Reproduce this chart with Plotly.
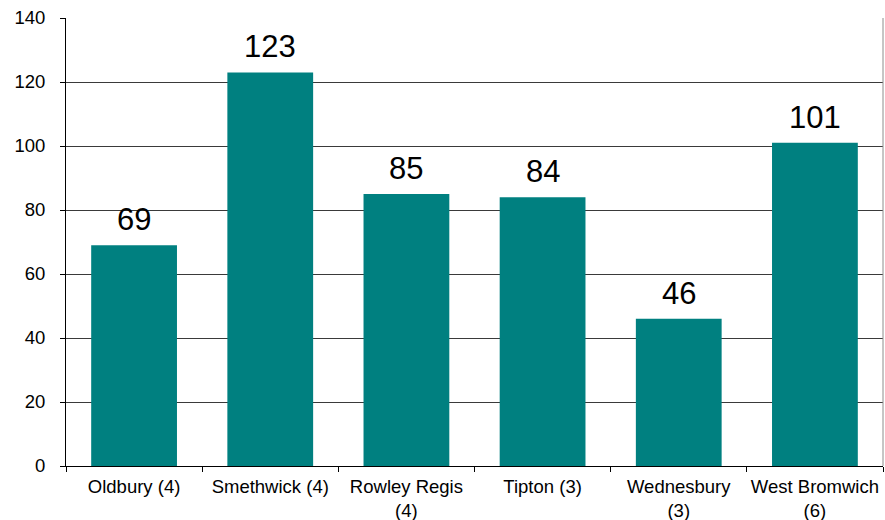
import plotly.graph_objects as go

towns = ["Oldbury (4)", "Smethwick (4)", "Rowley Regis<br>(4)", "Tipton (3)",
         "Wednesbury<br>(3)", "West Bromwich<br>(6)"]
counts = [69, 123, 85, 84, 46, 101]
y_ticks = [0, 20, 40, 60, 80, 100, 120, 140]

teal = "#008080"
font_family = "Liberation Sans, Arial, sans-serif"

fig = go.Figure()
fig.add_trace(go.Bar(
    x=towns, y=counts,
    marker=dict(color=teal, line=dict(width=0)),
    width=0.63,
    hoverinfo="x+y",
))

# value labels above each bar
for t, c in zip(towns, counts):
    fig.add_annotation(
        x=t, y=c, text=str(c), showarrow=False,
        yanchor="bottom", yshift=6,
        font=dict(size=31, color="#000000", family=font_family),
    )

# right-hand border of the plot area
fig.add_shape(type="line", xref="paper", yref="paper",
              x0=1, x1=1, y0=0, y1=1,
              line=dict(color="#8c8c8c", width=1))

fig.update_layout(
    width=885, height=520,
    margin=dict(l=66, r=2, t=18, b=54),
    plot_bgcolor="white", paper_bgcolor="white",
    showlegend=False,
    bargap=0.37,
    font=dict(family=font_family, color="#000000"),
    xaxis=dict(
        type="category",
        tickson="boundaries",
        tickangle=0,
        ticks="outside", ticklen=5, tickcolor="#000000", tickwidth=1,
        showline=True, linecolor="#000000", linewidth=1,
        showgrid=False,
        ticklabelstandoff=4,
        tickfont=dict(size=18.5, family=font_family, color="#000000"),
        automargin=False,
    ),
    yaxis=dict(
        range=[0, 140],
        tickvals=y_ticks,
        ticks="outside", ticklen=5, tickcolor="#000000", tickwidth=1,
        showline=True, linecolor="#000000", linewidth=1,
        showgrid=True, gridcolor="#3a3a3a", gridwidth=1,
        zeroline=False,
        ticklabelstandoff=11,
        tickfont=dict(size=18.5, family=font_family, color="#000000"),
        automargin=False,
    ),
)

fig.write_html("out.html")
